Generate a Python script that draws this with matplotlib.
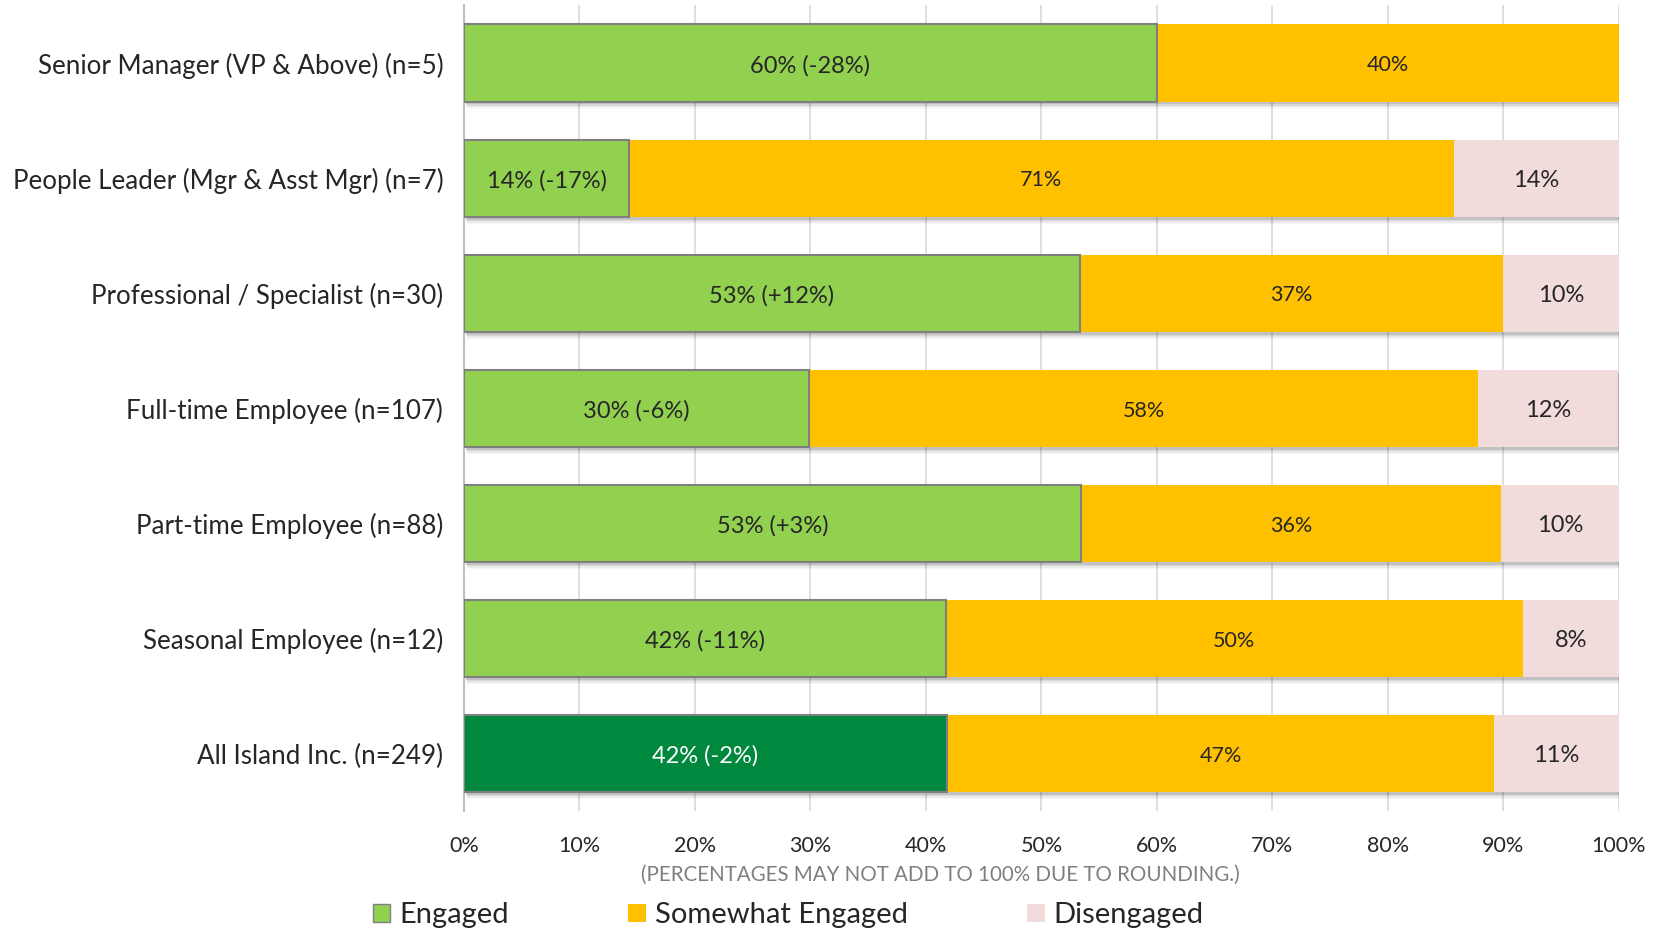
import matplotlib
matplotlib.use("Agg")
import matplotlib.pyplot as plt
from matplotlib.patches import Patch
import numpy as np

plt.rcParams['font.family'] = ['Lato', 'DejaVu Sans']

# datos (de arriba hacia abajo)
grupos = ['Senior Manager (VP & Above) (n=5)',
          'People Leader (Mgr & Asst Mgr) (n=7)',
          'Professional / Specialist (n=30)',
          'Full-time Employee (n=107)',
          'Part-time Employee (n=88)',
          'Seasonal Employee (n=12)',
          'All Island Inc. (n=249)']
engaged = [60.0, 14.3, 53.3, 29.9, 53.4, 41.7, 41.8]
somewhat = [40.0, 71.4, 36.7, 57.9, 36.4, 50.0, 47.4]
disengaged = [0.0, 14.3, 10.0, 12.1, 10.2, 8.3, 10.8]
cambio = ['-28%', '-17%', '+12%', '-6%', '+3%', '-11%', '-2%']
ticks_x = [0, 10, 20, 30, 40, 50, 60, 70, 80, 90, 100]

verde = '#92D050'
verde_osc = '#00883E'
naranja = '#FFC000'
rosa = '#F2DCDB'
texto = '#262626'

fig = plt.figure(figsize=(16.63, 9.32), dpi=100)
ax = fig.add_axes([0.279, 0.1298, 0.6945, 0.8643])

y = np.arange(len(grupos))
alto = 0.67
eng = np.array(engaged)
som = np.array(somewhat)
dis = np.array(disengaged)
total = eng + som + dis

# sombra suave debajo de las barras
for k, a in enumerate([0.10, 0.07, 0.05, 0.03]):
    ax.barh(y + 0.025 + k * 0.008, total, left=0.15 + k * 0.05, height=alto + k * 0.01,
            color='black', alpha=a, linewidth=0, zorder=1)

colores_eng = [verde] * (len(grupos) - 1) + [verde_osc]
ax.barh(y, eng, height=alto, color=colores_eng, edgecolor='#7F7F7F', linewidth=1.5,
        zorder=3, label='Engaged')
ax.barh(y, som, left=eng, height=alto, color=naranja, linewidth=0, zorder=2,
        label='Somewhat Engaged')
ax.barh(y, dis, left=eng + som, height=alto, color=rosa, linewidth=0, zorder=2,
        label='Disengaged')

for i in range(len(grupos)):
    col = 'white' if i == len(grupos) - 1 else texto
    ax.text(eng[i] / 2, y[i] + 0.02, f'{round(eng[i])}% ({cambio[i]})', ha='center',
            va='center', fontsize=17, color=col, zorder=4)
    ax.text(eng[i] + som[i] / 2, y[i] + 0.02, f'{round(som[i])}%', ha='center',
            va='center', fontsize=15.5, color=texto, zorder=4)
    if dis[i] > 0:
        ax.text(eng[i] + som[i] + dis[i] / 2, y[i] + 0.02, f'{round(dis[i])}%',
                ha='center', va='center', fontsize=17, color=texto, zorder=4)

ax.set_xlim(0, 100)
ax.set_ylim(len(grupos) - 0.5, -0.5)
ax.set_yticks(y)
ax.set_yticklabels(grupos, fontsize=18.7, color=texto)
ax.set_xticks(ticks_x)
ax.set_xticklabels([f'{t}%' for t in ticks_x], fontsize=15.5, color=texto)
ax.tick_params(length=0)
ax.tick_params(axis='y', pad=15)
ax.tick_params(axis='x', pad=18)
ax.grid(axis='x', color='#D9D9D9', linewidth=1.2, zorder=0)
ax.set_axisbelow(True)
for s in ['top', 'right', 'bottom']:
    ax.spines[s].set_visible(False)
ax.spines['left'].set_color('#BFBFBF')
ax.spines['left'].set_linewidth(1.5)

fig.text(0.5655, 0.0615, '(PERCENTAGES MAY NOT ADD TO 100% DUE TO ROUNDING.)',
         ha='center', va='center', fontsize=14.8, color='#7F7F7F')

handles = [Patch(facecolor=verde, edgecolor='#7F7F7F'), Patch(facecolor=naranja),
           Patch(facecolor=rosa)]
labels = ['Engaged', 'Somewhat Engaged', 'Disengaged']
fig.legend(handles, labels, loc='center', bbox_to_anchor=(0.474, 0.018), ncol=3,
           frameon=False, fontsize=21, handlelength=0.6, handleheight=0.6,
           handletextpad=0.3, columnspacing=4.1, labelcolor=texto)

fig.savefig('out.png', dpi=100)
